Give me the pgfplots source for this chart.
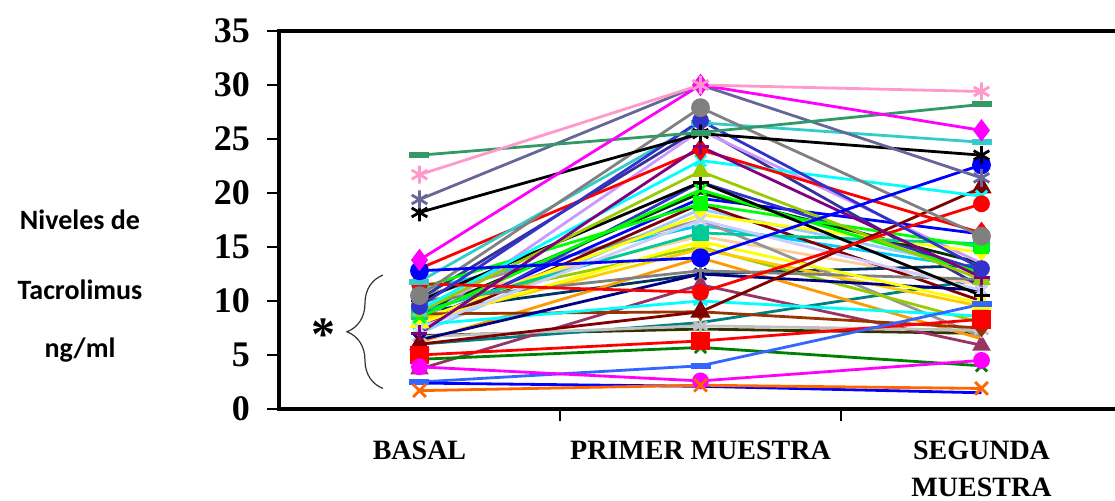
\documentclass[border=0pt]{standalone}
\usepackage{fontspec}
\setmainfont{Liberation Serif}
\newfontfamily\calibri{Carlito}
\usepackage{pgfplots}
\pgfplotsset{compat=1.18}
\usetikzlibrary{decorations.pathreplacing}
\definecolor{rose}{HTML}{FF99CC}
\definecolor{seag}{HTML}{339966}
\definecolor{slate}{HTML}{666699}
\definecolor{gry}{HTML}{808080}
\definecolor{indg}{HTML}{3333CC}
\definecolor{aqua}{HTML}{33CCCC}
\definecolor{lav}{HTML}{CC99FF}
\definecolor{purp}{HTML}{800080}
\definecolor{marn}{HTML}{800000}
\definecolor{lime}{HTML}{99CC00}
\definecolor{llav}{HTML}{CCCCFF}
\definecolor{mint}{HTML}{00CC99}
\definecolor{nav}{HTML}{000080}
\definecolor{brwn}{HTML}{993300}
\definecolor{silv}{HTML}{C0C0C0}
\definecolor{dgrn}{HTML}{008000}
\definecolor{lblu}{HTML}{3366FF}
\definecolor{orng}{HTML}{FF6600}
\definecolor{plum}{HTML}{993366}
\definecolor{oliv}{HTML}{333300}
\definecolor{tealc}{HTML}{008080}
\definecolor{gold}{HTML}{FFCC00}
\definecolor{pblu}{HTML}{99CCFF}
\definecolor{tan}{HTML}{FFCC99}
\definecolor{dteal}{HTML}{003366}
\definecolor{sky}{HTML}{00CCFF}
\definecolor{gry4}{HTML}{969696}
\definecolor{indg2}{HTML}{333399}
\definecolor{dkgr}{HTML}{003300}
\definecolor{lorng}{HTML}{FF9900}
\definecolor{mag}{HTML}{FF00FF}
\definecolor{cyn}{HTML}{00FFFF}
\definecolor{yel}{HTML}{FFFF00}
\definecolor{grn}{HTML}{00FF00}
\definecolor{rd}{HTML}{FF0000}
\definecolor{bl}{HTML}{0000FF}
\begin{document}
\begin{tikzpicture}
\begin{axis}[
  at={(0pt,0pt)}, anchor=south west,
  scale only axis, width=421.5pt, height=189pt,
  xmin=-0.5, xmax=2.5, ymin=0, ymax=35,
  axis line style={line width=2pt},
  ytick={0,5,...,35},
  xtick={0.5,1.5,2.5}, xticklabels={},
  extra x ticks={0,1,2},
  extra x tick labels={BASAL, PRIMER MUESTRA, {SEGUNDA\\MUESTRA}},
  extra x tick style={major tick length=0pt, xticklabel style={align=center, font=\fontsize{14}{18.5}\selectfont\bfseries, yshift=-12.5pt}},
  tick align=outside,
  ytick pos=left, xtick pos=bottom,
  tick style={line width=1pt, black},
  major tick length=6pt,
  yticklabel style={font=\fontsize{18}{18}\selectfont\bfseries, xshift=-5pt},
  /pgf/number format/assume math mode=true,
  every axis plot/.append style={line width=1.4pt, mark size=3.5pt},
  clip=false,
]
% lower / middle series
\addplot[oliv] coordinates {(0,6.8) (1,7.4) (2,7.0)};
\addplot[tealc] coordinates {(0,6.0) (1,8.0) (2,12.0)};
\addplot[pblu] coordinates {(0,7.0) (1,18.5) (2,13.0)};
\addplot[tan] coordinates {(0,9.8) (1,16.0) (2,11.5)};
\addplot[dteal] coordinates {(0,9.0) (1,12.5) (2,13.3)};
\addplot[sky] coordinates {(0,11.0) (1,17.0) (2,13.0)};
\addplot[gry4] coordinates {(0,10.4) (1,17.5) (2,6.7)};
\addplot[bl] coordinates {(0,8.0) (1,19.5) (2,16.2)};
\addplot[indg] coordinates {(0,7.3) (1,21.0) (2,12.8)};
\addplot[marn] coordinates {(0,7.5) (1,19.0) (2,10.0)};
\addplot[lime] coordinates {(0,9.5) (1,15.0) (2,8.0)};
\addplot[indg2] coordinates {(0,10.2) (1,26.0) (2,11.3)};
\addplot[dkgr] coordinates {(0,8.8) (1,20.0) (2,13.5)};
\addplot[lorng] coordinates {(0,6.2) (1,14.0) (2,6.5)};
\addplot[lav] coordinates {(0,8.0) (1,25.8) (2,13.5)};
\addplot[yel, mark=diamond*, mark options={solid,fill=yel}] coordinates {(0,8.2) (1,18.0) (2,14.5)};
\addplot[gold, mark=triangle*, mark options={solid,fill=gold}] coordinates {(0,8.2) (1,14.8) (2,9.5)};
\addplot[plum, mark=triangle*, mark options={solid,fill=plum}, mark size=4pt] coordinates {(0,3.7) (1,11.5) (2,5.9)};
\addplot[silv, mark=asterisk, mark size=4pt] coordinates {(0,6.7) (1,7.7) (2,7.3)};
\addplot[brwn, mark=diamond*, mark options={solid,fill=brwn}] coordinates {(0,8.8) (1,9.0) (2,7.5)};
\addplot[cyn, mark=asterisk, mark size=4pt] coordinates {(0,7.8) (1,10.0) (2,8.6)};
\addplot[nav, mark=x, mark size=4pt] coordinates {(0,6.4) (1,12.5) (2,11.0)};
\addplot[gry, mark=+, mark size=4pt] coordinates {(0,10.0) (1,12.8) (2,12.0)};
\addplot[yel, mark=triangle*, mark options={solid,fill=yel}, mark size=4.5pt] coordinates {(0,8.0) (1,15.5) (2,9.8)};
\addplot[mint, mark=square*, mark options={solid,fill=mint}] coordinates {(0,9.0) (1,16.3) (2,15.3)};
\addplot[llav, mark=x, mark size=4pt] coordinates {(0,7.5) (1,17.5) (2,11.0)};
\addplot[grn, mark=square*, mark options={solid,fill=grn}, mark size=3pt] coordinates {(0,11.2) (1,19.0) (2,15.0)};
\addplot[grn, mark=x, mark size=4pt] coordinates {(0,8.5) (1,20.3) (2,12.6)};
\addplot[black, mark=+, mark size=4pt] coordinates {(0,10.0) (1,21.0) (2,10.5)};
\addplot[lime, mark=triangle*, mark options={solid,fill=lime}, mark size=4pt] coordinates {(0,9.0) (1,22.0) (2,12.0)};
\addplot[marn, mark=triangle*, mark options={solid,fill=marn}, mark size=4.5pt] coordinates {(0,6.0) (1,9.0) (2,20.5)};
\addplot[cyn, mark=x, mark size=4pt] coordinates {(0,9.2) (1,23.0) (2,19.7)};
\addplot[rd, mark=*, mark options={solid,fill=rd}] coordinates {(0,11.6) (1,10.8) (2,19.0)};
\addplot[rd, mark=diamond*, mark options={solid,fill=rd}, mark size=4.5pt] coordinates {(0,13.0) (1,24.0) (2,16.3)};
\addplot[purp, mark=+, mark size=4pt] coordinates {(0,7.0) (1,24.3) (2,12.2)};
\addplot[aqua, mark=-, mark size=5pt, mark options={line width=3pt}] coordinates {(0,11.8) (1,26.5) (2,24.7)};
\addplot[indg, mark=*, mark options={solid,fill=indg}] coordinates {(0,9.5) (1,26.7) (2,13.0)};
\addplot[gry, mark=*, mark options={solid,fill=gry}, mark size=4pt] coordinates {(0,10.5) (1,27.9) (2,16.0)};
\addplot[dgrn, mark=x, mark size=4pt] coordinates {(0,4.6) (1,5.7) (2,4.0)};
\addplot[rd, mark=square*, mark options={solid,fill=rd}, mark size=4pt] coordinates {(0,5.0) (1,6.3) (2,8.3)};
\addplot[lblu, mark=-, mark size=5pt, mark options={line width=3pt}] coordinates {(0,2.5) (1,4.0) (2,9.7)};
\addplot[mag, mark=*, mark options={solid,fill=mag}] coordinates {(0,3.9) (1,2.6) (2,4.5)};
\addplot[bl] coordinates {(0,2.4) (1,2.1) (2,1.5)};
\addplot[orng, mark=x, mark size=4.5pt] coordinates {(0,1.7) (1,2.2) (2,1.9)};
% upper series
\addplot[bl, mark=*, mark options={solid,fill=bl}, mark size=4pt] coordinates {(0,12.8) (1,14.0) (2,22.6)};
\addplot[black, mark=asterisk, mark size=4.5pt] coordinates {(0,18.2) (1,25.5) (2,23.5)};
\addplot[slate, mark=asterisk, mark size=4.5pt] coordinates {(0,19.4) (1,30.0) (2,21.4)};
\addplot[seag, mark=-, mark size=5pt, mark options={line width=3pt}] coordinates {(0,23.5) (1,25.6) (2,28.2)};
\addplot[mag, mark=diamond*, mark options={solid,fill=mag}, mark size=4.5pt] coordinates {(0,13.8) (1,30.0) (2,25.8)};
\addplot[rose, mark=asterisk, mark size=4.5pt] coordinates {(0,21.7) (1,30.0) (2,29.4)};
% brace and asterisk
\draw[decorate, decoration={brace, amplitude=18pt}, line width=0.6pt, black!80]
  (axis cs:-0.13,1.9) -- (axis cs:-0.13,12.4);
\node[font=\fontsize{24}{24}\selectfont\bfseries] at (axis cs:-0.34,6.9) {*};
\end{axis}
\node[font=\calibri\bfseries\fontsize{14}{14}\selectfont] at (-99.5pt,94.5pt) {Niveles de};
\node[font=\calibri\bfseries\fontsize{14}{14}\selectfont] at (-99.5pt,59.5pt) {Tacrolimus};
\node[font=\calibri\bfseries\fontsize{14}{14}\selectfont] at (-99.5pt,29.5pt) {ng/ml};
\pgfresetboundingbox
\path[use as bounding box] (-139.5pt,-46pt) rectangle (418pt,204.5pt);
\end{tikzpicture}
\end{document}
